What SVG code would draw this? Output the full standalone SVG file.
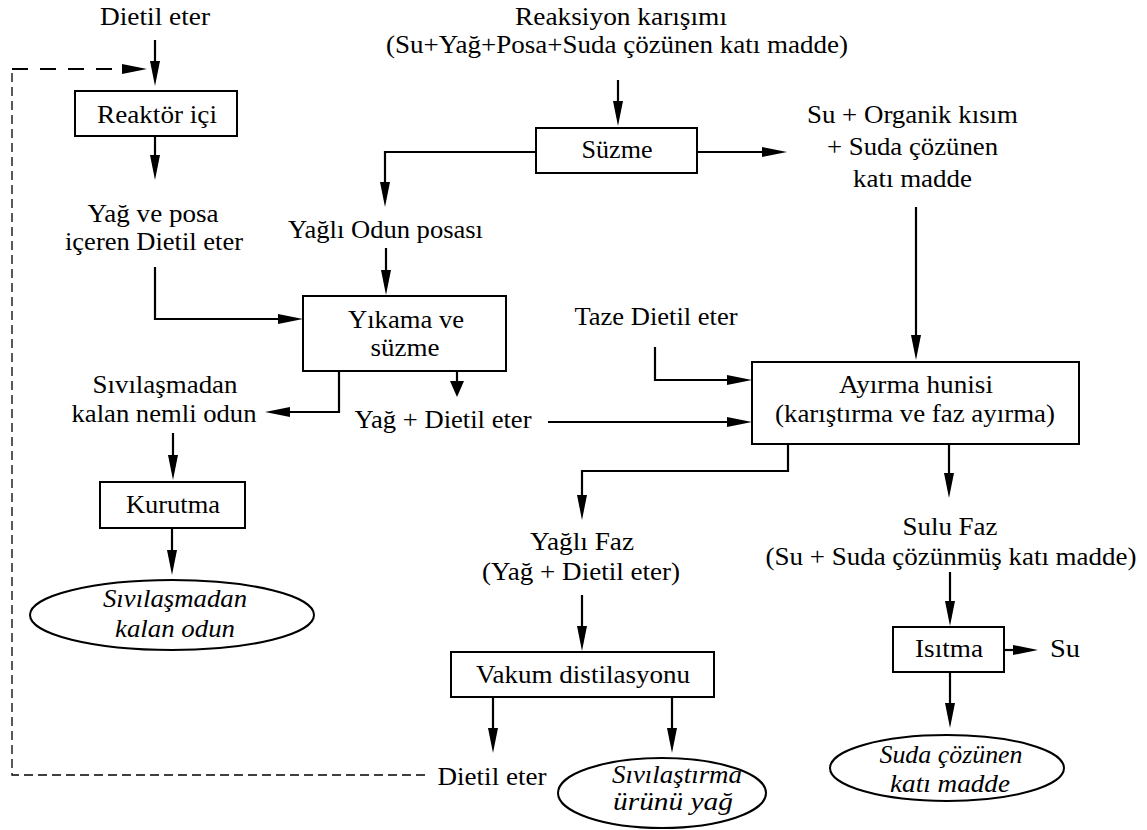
<svg xmlns="http://www.w3.org/2000/svg" width="1147" height="830" viewBox="0 0 1147 830">
<style>
text{font-family:"Liberation Serif","Times New Roman",serif;font-size:25px;fill:#000}
.it{font-style:italic}
.box{fill:#fff;stroke:#000;stroke-width:2}
.el{fill:#fff;stroke:#000;stroke-width:2}
.ln{fill:none;stroke:#000;stroke-width:2.2}
.dt{fill:none;stroke:#000;stroke-width:1.3;stroke-dasharray:9 5}
.dk{fill:none;stroke:#000;stroke-width:2;stroke-dasharray:16 12}
</style>
<defs>
<marker id="ah" markerUnits="userSpaceOnUse" viewBox="0 0 25 10" markerWidth="25" markerHeight="10" refX="15" refY="5" orient="auto">
<path d="M0,0 L25,5 L0,10 Z" fill="#000"/>
</marker>
<marker id="ahs" markerUnits="userSpaceOnUse" viewBox="0 0 16 14" markerWidth="16" markerHeight="14" refX="8" refY="7" orient="auto">
<path d="M0,0 L16,7 L0,14 Z" fill="#000"/>
</marker>
</defs>
<rect width="1147" height="830" fill="#fff"/>
<g id="connectors">
<path class="ln" d="M155,40 V76" marker-end="url(#ah)"/>
<path class="dt" d="M425,775 H12 V69"/>
<path class="dk" d="M12,69 H137" marker-end="url(#ah)"/>
<path class="ln" d="M155,136 V170" marker-end="url(#ah)"/>
<path class="ln" d="M155,267 V319 H293" marker-end="url(#ah)"/>
<path class="ln" d="M618,80 V116" marker-end="url(#ah)"/>
<path class="ln" d="M536,152 H385 V197" marker-end="url(#ah)"/>
<path class="ln" d="M697,152 H777" marker-end="url(#ah)"/>
<path class="ln" d="M386,248 V285" marker-end="url(#ah)"/>
<path class="ln" d="M457,371 V389" marker-end="url(#ahs)"/>
<path class="ln" d="M339,371 V412 H275" marker-end="url(#ah)"/>
<path class="ln" d="M173,433 V470" marker-end="url(#ah)"/>
<path class="ln" d="M172,528 V565" marker-end="url(#ah)"/>
<path class="ln" d="M655,347 V380 H742" marker-end="url(#ah)"/>
<path class="ln" d="M548,422 H742" marker-end="url(#ah)"/>
<path class="ln" d="M916,207 V350" marker-end="url(#ah)"/>
<path class="ln" d="M949,444 V488" marker-end="url(#ah)"/>
<path class="ln" d="M788,444 V471 H582 V510" marker-end="url(#ah)"/>
<path class="ln" d="M582,595 V641" marker-end="url(#ah)"/>
<path class="ln" d="M493,697 V743" marker-end="url(#ah)"/>
<path class="ln" d="M672,697 V743" marker-end="url(#ah)"/>
<path class="ln" d="M950,572 V616" marker-end="url(#ah)"/>
<path class="ln" d="M1004,650 H1028" marker-end="url(#ah)"/>
<path class="ln" d="M950,672 V718" marker-end="url(#ah)"/>
</g>
<g font-family="Liberation Serif">
<g id="lbl-dietil-top"><text x="100" y="25" textLength="110" lengthAdjust="spacingAndGlyphs">Dietil eter</text></g>
<g id="node-reaktor"><rect class="box" x="75" y="91" width="162" height="45"/><text x="97" y="123" textLength="120" lengthAdjust="spacingAndGlyphs">Reaktör içi</text></g>
<g id="lbl-yag-posa"><text x="87.5" y="222" textLength="131" lengthAdjust="spacingAndGlyphs">Yağ ve posa</text><text x="65" y="250" textLength="178" lengthAdjust="spacingAndGlyphs">içeren Dietil eter</text></g>
<g id="lbl-reaksiyon"><text x="515" y="25" textLength="212" lengthAdjust="spacingAndGlyphs">Reaksiyon karışımı</text><text x="386" y="53" textLength="462" lengthAdjust="spacingAndGlyphs">(Su+Yağ+Posa+Suda çözünen katı madde)</text></g>
<g id="node-suzme"><rect class="box" x="536" y="128" width="161" height="45"/><text x="581.5" y="158" textLength="71" lengthAdjust="spacingAndGlyphs">Süzme</text></g>
<g id="lbl-su-organik"><text x="807" y="123" textLength="211" lengthAdjust="spacingAndGlyphs">Su + Organik kısım</text><text x="827" y="155" textLength="171" lengthAdjust="spacingAndGlyphs">+ Suda çözünen</text><text x="853" y="187" textLength="119" lengthAdjust="spacingAndGlyphs">katı madde</text></g>
<g id="lbl-yagli-odun"><text x="288" y="238" textLength="195" lengthAdjust="spacingAndGlyphs">Yağlı Odun posası</text></g>
<g id="node-yikama"><rect class="box" x="303" y="296" width="203" height="75"/><text x="348" y="328" textLength="116" lengthAdjust="spacingAndGlyphs">Yıkama ve</text><text x="370.5" y="356" textLength="69" lengthAdjust="spacingAndGlyphs">süzme</text></g>
<g id="lbl-nemli-odun"><text x="92.5" y="393" textLength="145" lengthAdjust="spacingAndGlyphs">Sıvılaşmadan</text><text x="71.5" y="422" textLength="185" lengthAdjust="spacingAndGlyphs">kalan nemli odun</text></g>
<g id="lbl-yag-dietil"><text x="354.5" y="428" textLength="177" lengthAdjust="spacingAndGlyphs">Yağ + Dietil eter</text></g>
<g id="lbl-taze"><text x="574.5" y="325" textLength="163" lengthAdjust="spacingAndGlyphs">Taze Dietil eter</text></g>
<g id="node-ayirma"><rect class="box" x="752" y="362" width="327" height="82"/><text x="839" y="393" textLength="154" lengthAdjust="spacingAndGlyphs">Ayırma hunisi</text><text x="775" y="422" textLength="280" lengthAdjust="spacingAndGlyphs">(karıştırma ve faz ayırma)</text></g>
<g id="node-kurutma"><rect class="box" x="100" y="482" width="145" height="46"/><text x="126" y="513" textLength="94" lengthAdjust="spacingAndGlyphs">Kurutma</text></g>
<g id="node-kalan-odun"><ellipse class="el" cx="172" cy="615" rx="142" ry="35"/><text class="it" x="103" y="607" textLength="144" lengthAdjust="spacingAndGlyphs">Sıvılaşmadan</text><text class="it" x="115" y="637" textLength="120" lengthAdjust="spacingAndGlyphs">kalan odun</text></g>
<g id="lbl-yagli-faz"><text x="530" y="550" textLength="104" lengthAdjust="spacingAndGlyphs">Yağlı Faz</text><text x="482" y="580" textLength="198" lengthAdjust="spacingAndGlyphs">(Yağ + Dietil eter)</text></g>
<g id="node-vakum"><rect class="box" x="451" y="652" width="263" height="45"/><text x="476" y="683" textLength="214" lengthAdjust="spacingAndGlyphs">Vakum distilasyonu</text></g>
<g id="lbl-dietil-bottom"><text x="437.5" y="785" textLength="109" lengthAdjust="spacingAndGlyphs">Dietil eter</text></g>
<g id="node-urun-yag"><ellipse class="el" cx="662" cy="793" rx="104" ry="35"/><text class="it" x="612" y="783" textLength="130" lengthAdjust="spacingAndGlyphs">Sıvılaştırma</text><text class="it" x="613" y="810" textLength="120" lengthAdjust="spacingAndGlyphs">ürünü yağ</text></g>
<g id="lbl-sulu-faz"><text x="902.5" y="535" textLength="95" lengthAdjust="spacingAndGlyphs">Sulu Faz</text><text x="765.5" y="565" textLength="371" lengthAdjust="spacingAndGlyphs">(Su + Suda çözünmüş katı madde)</text></g>
<g id="node-isitma"><rect class="box" x="893" y="627" width="111" height="45"/><text x="915" y="657" textLength="68" lengthAdjust="spacingAndGlyphs">Isıtma</text></g>
<g id="lbl-su"><text x="1050" y="657" textLength="30" lengthAdjust="spacingAndGlyphs">Su</text></g>
<g id="node-cozunen"><ellipse class="el" cx="947" cy="768" rx="117" ry="33"/><text class="it" x="879.5" y="763" textLength="143" lengthAdjust="spacingAndGlyphs">Suda çözünen</text><text class="it" x="890" y="792" textLength="120" lengthAdjust="spacingAndGlyphs">katı madde</text></g>
</g>
</svg>
